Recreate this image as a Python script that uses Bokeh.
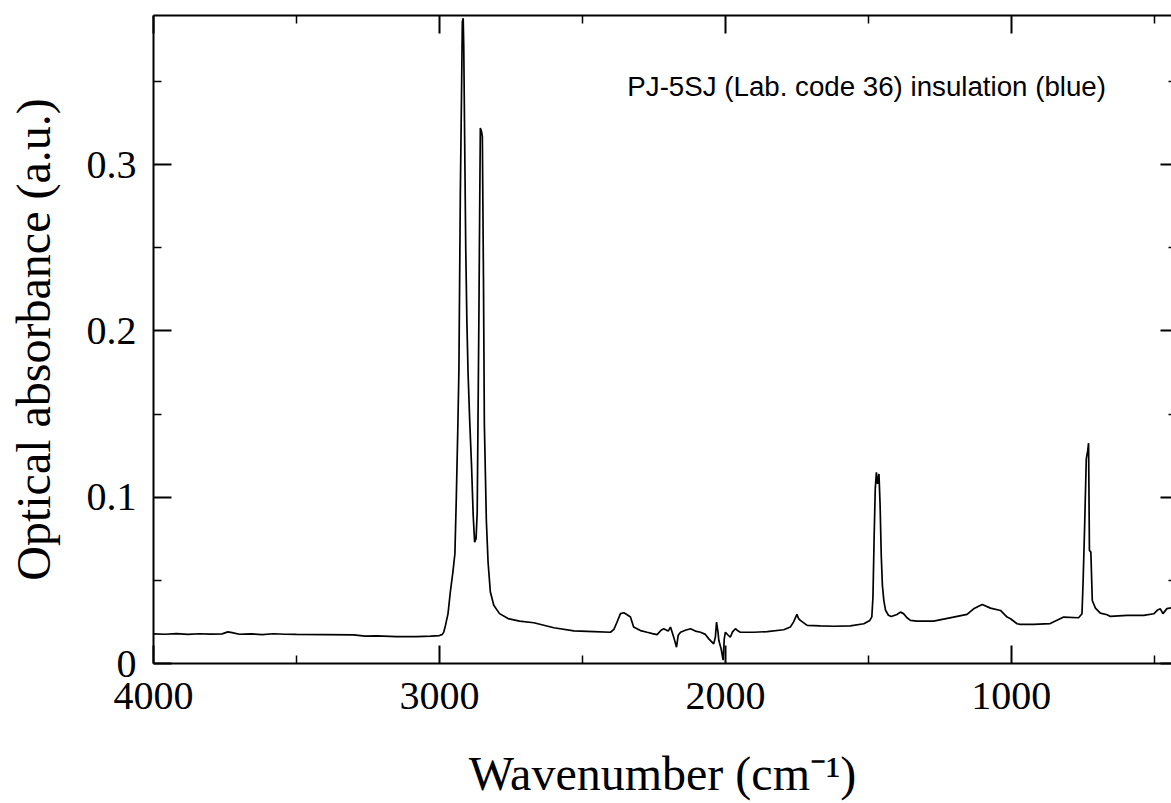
from bokeh.plotting import figure
from bokeh.models import FixedTicker, Range1d, LinearAxis, Label, CustomJSTickFormatter
from bokeh.embed import file_html
from bokeh.resources import INLINE

# Spectrum (wavenumber in cm^-1, absorbance in a.u.)
wavenumber = [4000, 3960, 3920, 3880, 3840, 3800, 3760, 3740, 3725, 3700, 3660, 3620, 3580, 3540, 3500,
              3400, 3300, 3260, 3220, 3150, 3080, 3030, 3000, 2990, 2985, 2979, 2970, 2962, 2953, 2946,
              2941, 2936, 2932, 2927, 2923, 2920, 2917, 2915, 2911, 2908, 2904, 2900, 2894, 2888, 2882,
              2877, 2872, 2868, 2865, 2862, 2859, 2857, 2853, 2850, 2846, 2843, 2836, 2830, 2822, 2810,
              2790, 2760, 2720, 2670, 2600, 2530, 2460, 2402, 2390, 2380, 2367, 2355, 2345, 2332, 2321,
              2297, 2274, 2255, 2239, 2225, 2216, 2200, 2192, 2181, 2171, 2165, 2157, 2140, 2122, 2105,
              2087, 2070, 2058, 2041, 2035, 2031, 2026, 2023, 2015, 2008, 2004, 2000, 1990, 1983, 1975,
              1965, 1955, 1948, 1901, 1854, 1796, 1773, 1762, 1750, 1744, 1738, 1714, 1668, 1621, 1563,
              1516, 1495, 1488, 1484, 1480, 1476, 1472, 1468, 1463, 1459, 1455, 1451, 1446, 1440, 1430,
              1420, 1400, 1388, 1377, 1365, 1353, 1330, 1272, 1202, 1155, 1132, 1102, 1073, 1038, 1015,
              1003, 980, 969, 922, 864, 817, 765, 753, 749, 744, 738, 733, 730, 727, 722,
              717, 706, 689, 665, 654, 595, 537, 502, 490, 479, 470, 456, 440]
absorbance = [0.0178, 0.0176, 0.0180, 0.0175, 0.0179, 0.0177, 0.0178, 0.0190, 0.0186, 0.0176, 0.0178, 0.0174, 0.0179, 0.0176, 0.0175,
              0.0174, 0.0172, 0.0165, 0.0166, 0.0162, 0.0162, 0.0165, 0.0168, 0.0175, 0.0189, 0.0229, 0.030, 0.043, 0.055, 0.066,
              0.100, 0.140, 0.176, 0.282, 0.340, 0.386, 0.388, 0.371, 0.300, 0.249, 0.205, 0.175, 0.145, 0.120, 0.089,
              0.073, 0.075, 0.091, 0.150, 0.210, 0.280, 0.322, 0.320, 0.317, 0.230, 0.144, 0.086, 0.061, 0.043, 0.035,
              0.030, 0.027, 0.0255, 0.0245, 0.0215, 0.0196, 0.0192, 0.0188, 0.0205, 0.0245, 0.0300, 0.0305, 0.0295, 0.0280, 0.0220,
              0.0198, 0.0188, 0.0180, 0.0174, 0.0200, 0.0209, 0.0195, 0.0219, 0.0160, 0.0098, 0.0170, 0.0188, 0.0200, 0.0209, 0.0195,
              0.0188, 0.0175, 0.0148, 0.0118, 0.0160, 0.0249, 0.0190, 0.0138, 0.0088, 0.0020, 0.0150, 0.0188, 0.0170, 0.0158, 0.0190,
              0.0209, 0.0195, 0.0188, 0.0188, 0.0192, 0.0203, 0.0219, 0.0249, 0.0295, 0.0270, 0.0259, 0.0229, 0.0226, 0.0224, 0.0226,
              0.0239, 0.0259, 0.0280, 0.040, 0.075, 0.105, 0.115, 0.108, 0.114, 0.095, 0.065, 0.047, 0.038, 0.032, 0.029,
              0.0283, 0.0295, 0.0309, 0.0300, 0.0275, 0.0259, 0.0255, 0.0255, 0.0279, 0.0295, 0.0329, 0.0355, 0.0333, 0.0319, 0.0279,
              0.0269, 0.0239, 0.0235, 0.0235, 0.0240, 0.0279, 0.0275, 0.0299, 0.0499, 0.081, 0.123, 0.128, 0.1325, 0.068, 0.067,
              0.0379, 0.0333, 0.0303, 0.0293, 0.0283, 0.0289, 0.0289, 0.0299, 0.0320, 0.0329, 0.0300, 0.0330, 0.0335]

x_major = [4000, 3000, 2000, 1000]
x_minor = [3500, 2500, 1500, 500]
y_major = [0, 0.1, 0.2, 0.3]
y_minor = [0.05, 0.15, 0.25, 0.35]
annotation = "PJ-5SJ (Lab. code 36) insulation (blue)"
x_title = "Wavenumber (cm\u207b\u00b9)"
y_title = "Optical absorbance (a.u.)"

SERIF = "Liberation Serif"

p = figure(width=1171, height=803, x_range=Range1d(4000, 440), y_range=Range1d(0, 0.3897),
           output_backend="svg", toolbar_location=None,
           min_border_left=153, min_border_right=0, min_border_top=15, min_border_bottom=140)
p.outline_line_color = None
p.xgrid.visible = False
p.ygrid.visible = False
p.background_fill_color = "white"
p.border_fill_color = "white"

p.line(wavenumber, absorbance, line_color="black", line_width=1.7)

bottom = p.below[0]
left = p.left[0]
top = LinearAxis()
p.add_layout(top, "above")
right = LinearAxis()
p.add_layout(right, "right")

def style(ax):
    ax.axis_line_width = 2
    ax.axis_line_color = "black"
    ax.major_tick_line_width = 2
    ax.major_tick_line_color = "black"
    ax.minor_tick_line_width = 1.5
    ax.minor_tick_line_color = "black"
    ax.major_tick_in = 18
    ax.major_tick_out = 0
    ax.minor_tick_in = 8
    ax.minor_tick_out = 0
    ax.major_label_text_font = SERIF
    ax.major_label_text_font_size = "40px"
    ax.major_label_text_color = "black"
    ax.axis_label_text_font = SERIF
    ax.axis_label_text_font_size = "48px"
    ax.axis_label_text_font_style = "normal"
    ax.axis_label_text_color = "black"

for ax in [bottom, left, top, right]:
    style(ax)

bottom.ticker = FixedTicker(ticks=x_major, minor_ticks=x_minor)
top.ticker = FixedTicker(ticks=x_major, minor_ticks=x_minor)
left.ticker = FixedTicker(ticks=y_major, minor_ticks=y_minor)
right.ticker = FixedTicker(ticks=y_major, minor_ticks=y_minor)
left.formatter = CustomJSTickFormatter(code="return tick == 0 ? '0' : tick.toFixed(1);")
bottom.formatter = CustomJSTickFormatter(code="return tick.toFixed(0);")

for ax in [top, right]:
    ax.major_label_text_font_size = "0px"
    ax.major_label_standoff = 0
right.axis_line_color = None
right.major_tick_in = 11
right.minor_tick_in = 3

bottom.axis_label = x_title
left.axis_label = y_title
bottom.major_label_standoff = 19
left.major_label_standoff = 17
bottom.axis_label_standoff = 35
left.axis_label_standoff = 24

p.add_layout(Label(x=2343, y=0.347, text=annotation, text_font="Liberation Sans",
                   text_font_size="27.7px", text_color="black", text_align="left",
                   text_baseline="alphabetic"))

open("out.html", "w").write(file_html(p, INLINE))
